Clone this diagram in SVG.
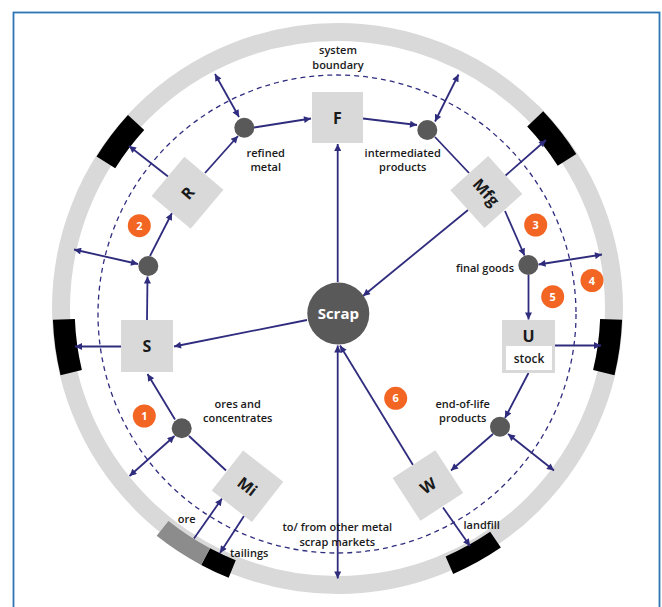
<svg xmlns="http://www.w3.org/2000/svg" width="662" height="607" viewBox="0 0 662 607">
<style>
.frame{fill:#fff;stroke:#2e75b6;stroke-width:1.8}
.ring{fill:none;stroke:#d9d9d9;stroke-width:18}
.blk{fill:none;stroke:#000;stroke-width:22}
.blk2{fill:none;stroke:#000;stroke-width:19}
.ore{fill:none;stroke:#8c8c8c;stroke-width:19}
.bnd{fill:none;stroke:#2f2c7e;stroke-width:1.3;stroke-dasharray:5 4}
.c{fill:none;stroke:#2f2c7e;stroke-width:1.8}
.box{fill:#d9d9d9}
.jn{fill:#595959}
.num{fill:#f26522}
.numt{font-family:"Open Sans",sans-serif;font-weight:700;font-size:11px;fill:#fff;text-anchor:middle}
.lbl{font-family:"Open Sans",sans-serif;font-weight:600;font-size:11px;fill:#1a1a1a;text-anchor:middle}
.nl{font-family:"Open Sans",sans-serif;font-weight:700;font-size:16px;fill:#1a1a1a;text-anchor:middle}
.sc{font-family:"Open Sans",sans-serif;font-weight:700;font-size:15px;fill:#fff;text-anchor:middle}
</style>
<defs>
<marker id="ah" viewBox="0 0 10 10" refX="10" refY="5" markerWidth="8" markerHeight="7" markerUnits="userSpaceOnUse" orient="auto-start-reverse">
<path d="M0,0 L10,5 L0,10 z" fill="#2f2c7e"/>
</marker>
</defs>
<rect class="frame" x="13.5" y="12.5" width="646" height="610"/>
<g id="boundary">
<circle class="ring" cx="337.5" cy="308.5" r="276.5"/>
<circle class="bnd" cx="337" cy="314" r="239"/>
</g>
<g id="exits">
<path class="blk" d="M611.1,319.4 A274,274 0 0 1 603.8,372.6"/>
<path class="blk" d="M71.2,372.6 A274,274 0 0 1 63.9,319.4"/>
<path class="blk" d="M105.9,162.4 A274,274 0 0 1 136.1,122.5"/>
<path class="blk" d="M535.2,118.9 A274,274 0 0 1 567.0,159.8"/>
<path class="blk2" d="M495.5,539.7 A280,280 0 0 1 449.4,565.2"/>
<path class="blk2" d="M232.2,569.0 A281,281 0 0 1 205.6,556.6"/>
<path class="ore" d="M205.6,556.6 A281,281 0 0 1 162.6,528.4"/>
</g>
<g id="connectors">
<line class="c" x1="254" y1="127.5" x2="311" y2="118.5" marker-end="url(#ah)"/>
<line class="c" x1="363" y1="118.5" x2="417" y2="125" marker-end="url(#ah)"/>
<line class="c" x1="435" y1="121.5" x2="458.5" y2="74.5" marker-start="url(#ah)" marker-end="url(#ah)"/>
<line class="c" x1="239" y1="117" x2="215" y2="74" marker-start="url(#ah)" marker-end="url(#ah)"/>
<line class="c" x1="435" y1="137" x2="469" y2="173"/>
<line class="c" x1="505" y1="176" x2="546" y2="140" marker-end="url(#ah)"/>
<line class="c" x1="505" y1="211" x2="524.5" y2="255.5" marker-end="url(#ah)"/>
<line class="c" x1="468" y1="210" x2="363" y2="296" marker-end="url(#ah)"/>
<line class="c" x1="538.5" y1="264.5" x2="602" y2="254.5" marker-start="url(#ah)" marker-end="url(#ah)"/>
<line class="c" x1="528.5" y1="275" x2="528.5" y2="319.5" marker-end="url(#ah)"/>
<line class="c" x1="555" y1="345.5" x2="601" y2="345.5" marker-end="url(#ah)"/>
<line class="c" x1="528.5" y1="373" x2="505" y2="418" marker-end="url(#ah)"/>
<line class="c" x1="508" y1="434" x2="554" y2="470.5" marker-start="url(#ah)" marker-end="url(#ah)"/>
<line class="c" x1="493" y1="434" x2="451" y2="470.5" marker-end="url(#ah)"/>
<line class="c" x1="413" y1="465" x2="340" y2="345.5" marker-end="url(#ah)"/>
<line class="c" x1="443" y1="507.5" x2="470" y2="546" marker-end="url(#ah)"/>
<line class="c" x1="337.7" y1="345.5" x2="337.7" y2="578.5" marker-start="url(#ah)" marker-end="url(#ah)"/>
<line class="c" x1="337.7" y1="282" x2="337.7" y2="144" marker-end="url(#ah)"/>
<line class="c" x1="307" y1="320" x2="174" y2="346.5" marker-end="url(#ah)"/>
<line class="c" x1="121" y1="346.5" x2="75" y2="346.5" marker-end="url(#ah)"/>
<line class="c" x1="147" y1="320" x2="147.5" y2="276.5" marker-end="url(#ah)"/>
<line class="c" x1="138" y1="264" x2="74" y2="249.5" marker-start="url(#ah)" marker-end="url(#ah)"/>
<line class="c" x1="150" y1="256" x2="172" y2="213" marker-end="url(#ah)"/>
<line class="c" x1="205" y1="173" x2="238" y2="136" marker-end="url(#ah)"/>
<line class="c" x1="168" y1="176.5" x2="129" y2="146" marker-end="url(#ah)"/>
<line class="c" x1="226" y1="470.5" x2="189" y2="436"/>
<line class="c" x1="174.5" y1="436" x2="129.5" y2="476" marker-start="url(#ah)" marker-end="url(#ah)"/>
<line class="c" x1="175" y1="419.5" x2="147.5" y2="374" marker-end="url(#ah)"/>
<line class="c" x1="194" y1="538.5" x2="222" y2="498.5" marker-end="url(#ah)"/>
<line class="c" x1="244" y1="516" x2="220" y2="553" marker-end="url(#ah)"/>
</g>
<g id="F"><rect class="box" x="312" y="92" width="51" height="51"/><text class="nl" x="337.5" y="123.5">F</text></g>
<g id="R" transform="translate(187.5,192.8) rotate(-50)"><rect class="box" x="-25.5" y="-25.5" width="51" height="51"/><text class="nl" x="0" y="6">R</text></g>
<g id="Mfg" transform="translate(486.3,192.1) rotate(48)"><rect class="box" x="-25.5" y="-25.5" width="51" height="51"/><text class="nl" x="0" y="6">Mfg</text></g>
<g id="S"><rect class="box" x="121" y="320" width="52" height="52"/><text class="nl" x="147" y="352">S</text></g>
<g id="U"><rect class="box" x="502" y="320" width="53" height="53"/><rect x="506" y="346" width="46" height="24" fill="#fff"/><text class="nl" x="528.5" y="341.5">U</text><text class="lbl" x="529" y="362.5" style="font-size:12px">stock</text></g>
<g id="Mi" transform="translate(247.5,486.2) rotate(38)"><rect class="box" x="-25.5" y="-25.5" width="51" height="51"/><text class="nl" x="0" y="6">Mi</text></g>
<g id="W" transform="translate(427.9,485.5) rotate(-33)"><rect class="box" x="-25.5" y="-25.5" width="51" height="51"/><text class="nl" x="0" y="6">W</text></g>
<g id="Scrap"><circle class="jn" cx="338.3" cy="313.6" r="31"/><text class="sc" x="338.3" y="319">Scrap</text></g>
<g id="junctions">
<circle class="jn" cx="244.3" cy="127.7" r="10"/>
<circle class="jn" cx="427.3" cy="130" r="10"/>
<circle class="jn" cx="528.3" cy="265" r="10"/>
<circle class="jn" cx="148.3" cy="266" r="10"/>
<circle class="jn" cx="181.7" cy="428.3" r="10"/>
<circle class="jn" cx="500" cy="426.7" r="10"/>
</g>
<g id="numbers">
<circle class="num" cx="144.3" cy="416" r="11.5"/><text class="numt" x="144.3" y="420">1</text>
<circle class="num" cx="139.3" cy="225.7" r="11.5"/><text class="numt" x="139.3" y="229.7">2</text>
<circle class="num" cx="535.7" cy="225" r="11.5"/><text class="numt" x="535.7" y="229">3</text>
<circle class="num" cx="592" cy="280.5" r="11.5"/><text class="numt" x="592" y="284.5">4</text>
<circle class="num" cx="552.7" cy="296.7" r="11.5"/><text class="numt" x="552.7" y="300.7">5</text>
<circle class="num" cx="395.7" cy="398.3" r="11.5"/><text class="numt" x="395.7" y="402.3">6</text>
</g>
<g id="labels">
<text class="lbl" x="338" y="54">system</text>
<text class="lbl" x="338" y="69">boundary</text>
<text class="lbl" x="265.7" y="156.5">refined</text>
<text class="lbl" x="265.7" y="171">metal</text>
<text class="lbl" x="402.7" y="156.5">intermediated</text>
<text class="lbl" x="402.7" y="171">products</text>
<text class="lbl" x="485" y="272">final goods</text>
<text class="lbl" x="237.7" y="408">ores and</text>
<text class="lbl" x="237.7" y="422">concentrates</text>
<text class="lbl" x="462.7" y="408">end-of-life</text>
<text class="lbl" x="462.7" y="422">products</text>
<text class="lbl" x="186.7" y="522.5">ore</text>
<text class="lbl" x="230" y="557" style="text-anchor:start">tailings</text>
<text class="lbl" x="481.7" y="528.5">landfill</text>
<text class="lbl" x="337.3" y="530.5">to/ from other metal</text>
<text class="lbl" x="337.3" y="545.5">scrap markets</text>
</g>
</svg>
